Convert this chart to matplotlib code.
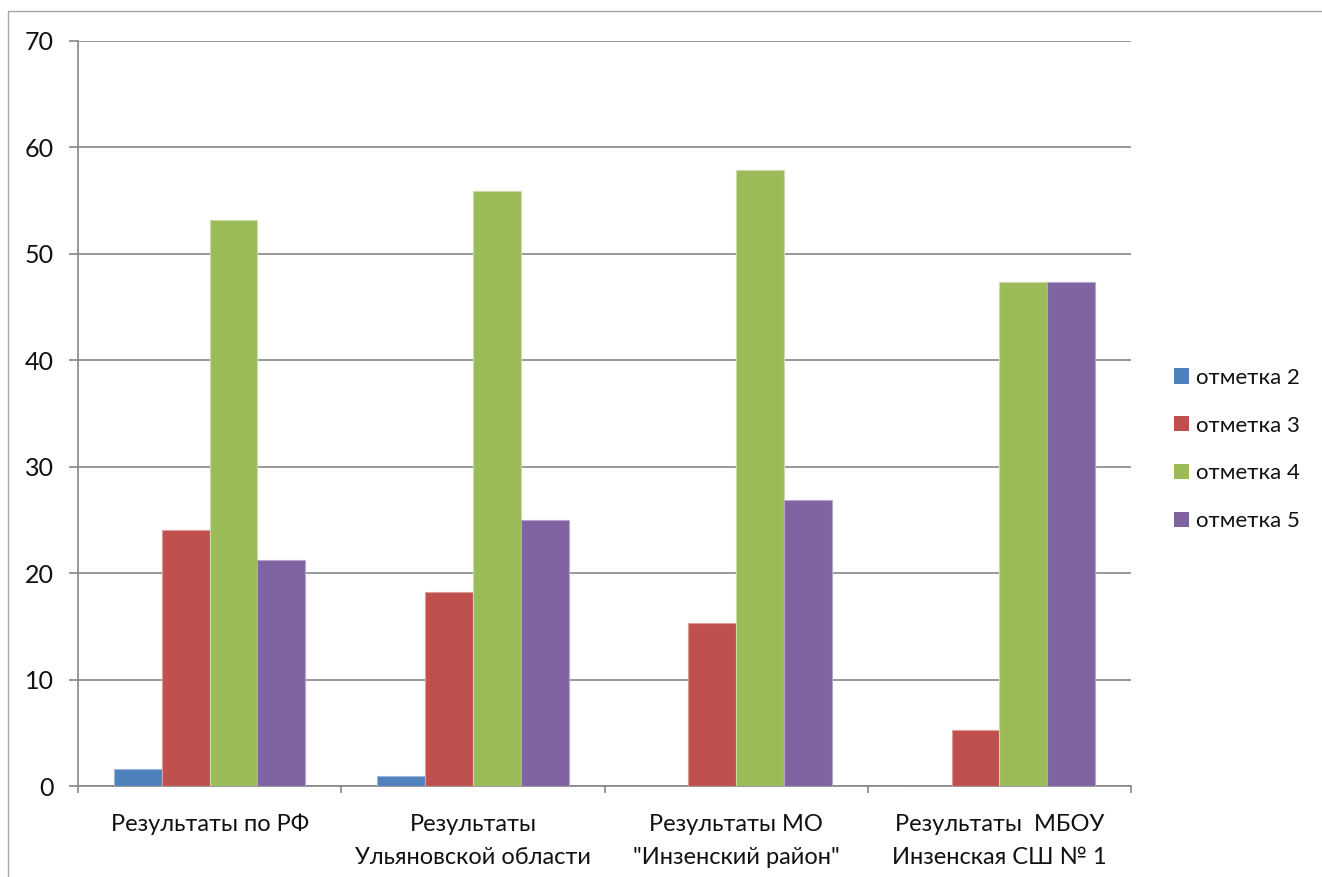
import matplotlib
matplotlib.use("Agg")
import matplotlib.pyplot as plt
from matplotlib.patches import Rectangle, Patch
import numpy as np

W, H, DPI = 1322, 877, 100

categories = [
    "Результаты по РФ",
    "Результаты\nУльяновской области",
    "Результаты МО\n\"Инзенский район\"",
    "Результаты  МБОУ\nИнзенская СШ № 1",
]
series_names = ["отметка 2", "отметка 3", "отметка 4", "отметка 5"]
mark2 = [1.6, 0.9, 0.0, 0.0]
mark3 = [24.1, 18.2, 15.3, 5.3]
mark4 = [53.2, 55.9, 57.9, 47.4]
mark5 = [21.2, 25.0, 26.9, 47.4]
yticks = [0, 10, 20, 30, 40, 50, 60, 70]

COLORS = ["#4F81BD", "#C0504D", "#9BBB59", "#8064A2"]
EDGES = ["#9db7d8", "#dc9c9a", "#cadbaa", "#b6a6cb"]
GRID = "#868686"
FONT = "Lato"

plt.rcParams["font.family"] = [FONT, "DejaVu Sans"]

fig = plt.figure(figsize=(W / DPI, H / DPI), dpi=DPI)

# outer chart frame (only top and left edges fall inside the picture)
fig.patches.append(Rectangle((8 / W, -0.1), 1.2, 1.1 - 11 / H,
                             transform=fig.transFigure, fill=False,
                             edgecolor="#a6a6a6", lw=1.0, zorder=0))

# plot area in pixels: x 78..1131, y 41..786
ax = fig.add_axes([78 / W, (H - 786) / H, 1053 / W, 745 / H])

values = [mark2, mark3, mark4, mark5]
w = 1 / 5.5
x = np.arange(len(categories))
for j, (name, vals) in enumerate(zip(series_names, values)):
    ax.bar(x + (j - 1.5) * w, vals, width=w, color=COLORS[j],
           edgecolor=EDGES[j], linewidth=0.8, label=name, zorder=3)

ax.set_xlim(-0.5, len(categories) - 0.5)
ax.set_ylim(0, 70)
ax.set_yticks(yticks)
ax.yaxis.grid(True, color=GRID, lw=1.2, zorder=0)
ax.set_axisbelow(True)

for s in ("top", "right"):
    ax.spines[s].set_visible(False)
for s in ("left", "bottom"):
    ax.spines[s].set_color(GRID)
    ax.spines[s].set_linewidth(1.2)

ax.tick_params(axis="y", length=6.5, width=1.2, color=GRID, pad=11,
               labelsize=18, labelcolor="#111111")
ax.set_xticks(x)
ax.set_xticklabels(categories, fontsize=17, linespacing=1.72,
                   color="#111111")
ax.tick_params(axis="x", length=0, pad=20)
ax.set_xticks(np.arange(len(categories) + 1) - 0.5, minor=True)
ax.tick_params(axis="x", which="minor", length=5, width=1.2, color=GRID)

handles = [Patch(facecolor=c, edgecolor="none") for c in COLORS]
leg = fig.legend(handles, series_names, loc="center left",
                 bbox_to_anchor=(1174 / W, 1 - 449.5 / H), frameon=False,
                 fontsize=16, handlelength=0.68, handleheight=0.68,
                 handletextpad=0.33, labelspacing=1.25, borderpad=0,
                 borderaxespad=0)
for t in leg.get_texts():
    t.set_color("#111111")

fig.savefig("out.png", dpi=DPI)
